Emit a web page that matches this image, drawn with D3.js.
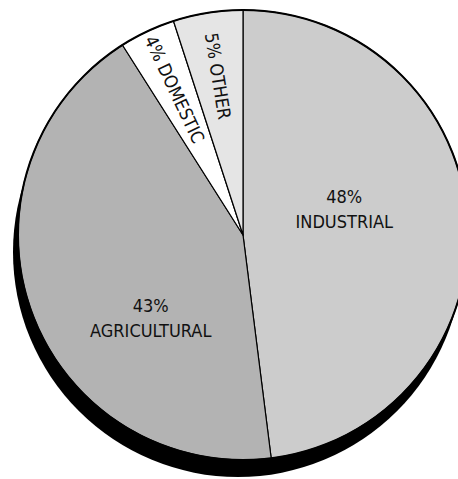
<!DOCTYPE html>
<html>
<head>
<meta charset="utf-8">
<script src="https://cdn.jsdelivr.net/npm/d3@7"></script>
<style>
  html, body { margin: 0; padding: 0; background: #fff; }
  svg { display: block; }
  text { font-family: "Liberation Sans Narrow", "DejaVu Sans Condensed", sans-serif; fill: #111; }
</style>
</head>
<body>
<svg id="chart" width="458" height="479"></svg>
<script>
// Water use by sector, clockwise from 12 o'clock
const categories = ["INDUSTRIAL", "AGRICULTURAL", "DOMESTIC", "OTHER"];
const shares = [48, 43, 4, 5];
const fills = ["#cccccc", "#b3b3b3", "#ffffff", "#e5e5e5"];

const width = 458, height = 479;
const cx = 243, cy = 235, radius = 225;

const svg = d3.select("#chart");
const g = svg.append("g").attr("transform", `translate(${cx},${cy})`);

const pie = d3.pie().sort(null).value(d => d.value);
const arcs = pie(categories.map((c, i) => ({ name: c, value: shares[i], fill: fills[i] })));
const arc = d3.arc().innerRadius(0).outerRadius(radius);

// drop shadow below the disc
g.append("circle")
  .attr("cx", -5).attr("cy", 17).attr("r", radius)
  .attr("fill", "#000");

// wedges
g.selectAll("path.slice")
  .data(arcs)
  .join("path")
  .attr("class", "slice")
  .attr("d", arc)
  .attr("fill", d => d.data.fill)
  .attr("stroke", "#000")
  .attr("stroke-width", 1.2)
  .attr("stroke-linejoin", "round");

// outer rim
g.append("circle")
  .attr("r", radius)
  .attr("fill", "none")
  .attr("stroke", "#000")
  .attr("stroke-width", 2);

const fontSize = 18;

// the two big wedges: two-line labels placed inside the wedge
const bigLabelAt = { INDUSTRIAL: [0.45, -0.125], AGRICULTURAL: [-0.41, 0.36] };
arcs.filter(d => bigLabelAt[d.data.name]).forEach(d => {
  const [fx, fy] = bigLabelAt[d.data.name];
  const t = g.append("text")
    .attr("x", fx * radius).attr("y", fy * radius)
    .attr("text-anchor", "middle")
    .attr("font-size", fontSize);
  t.append("tspan").attr("x", fx * radius).attr("dy", "-0.2em").text(`${d.data.value}%`);
  t.append("tspan").attr("x", fx * radius).attr("dy", "1.36em").text(d.data.name);
});

// the two thin wedges: labels running along the wedge bisector
arcs.filter(d => !bigLabelAt[d.data.name]).forEach(d => {
  const mid = (d.startAngle + d.endAngle) / 2;
  const r = radius * 0.715;
  const x = r * Math.sin(mid), y = -r * Math.cos(mid);
  const rot = mid * 180 / Math.PI - 270;
  g.append("text")
    .attr("transform", `translate(${x},${y}) rotate(${rot})`)
    .attr("text-anchor", "middle")
    .attr("dy", "0.35em")
    .attr("font-size", fontSize)
    .text(`${d.data.value}% ${d.data.name}`);
});
</script>
</body>
</html>
